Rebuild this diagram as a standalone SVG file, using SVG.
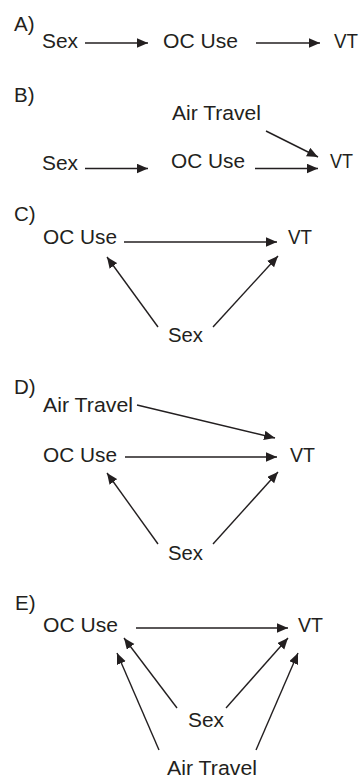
<svg xmlns="http://www.w3.org/2000/svg" width="363" height="779" viewBox="0 0 363 779">
<style>
text{font-family:"Liberation Sans",Arial,sans-serif;font-size:20.5px;fill:#231f20}
.c line{stroke:#231f20;stroke-width:1.4;marker-end:url(#ah)}
</style>
<defs>
<marker id="ah" markerUnits="userSpaceOnUse" markerWidth="12" markerHeight="10" refX="11" refY="4.75" orient="auto">
<path d="M0,0 L11,4.75 L0,9.5 z" fill="#231f20"/>
</marker>
</defs>
<rect width="363" height="779" fill="#fff"/>
<g id="panel-labels">
<text x="14" y="31">A)</text>
<text x="14" y="102">B)</text>
<text x="14" y="221">C)</text>
<text x="14" y="394">D)</text>
<text x="15" y="610">E)</text>
</g>
<g id="a-sex"><text x="42" y="47.5" textLength="36" lengthAdjust="spacingAndGlyphs">Sex</text></g>
<g id="a-oc"><text x="163" y="47.5" textLength="75" lengthAdjust="spacingAndGlyphs">OC Use</text></g>
<g id="a-vt"><text x="334" y="47.5" textLength="24" lengthAdjust="spacingAndGlyphs">VT</text></g>
<g id="b-air"><text x="172" y="120" textLength="89" lengthAdjust="spacingAndGlyphs">Air Travel</text></g>
<g id="b-sex"><text x="42" y="169.5" textLength="36" lengthAdjust="spacingAndGlyphs">Sex</text></g>
<g id="b-oc"><text x="171" y="168" textLength="74" lengthAdjust="spacingAndGlyphs">OC Use</text></g>
<g id="b-vt"><text x="330" y="168" textLength="23" lengthAdjust="spacingAndGlyphs">VT</text></g>
<g id="c-oc"><text x="43" y="244" textLength="74" lengthAdjust="spacingAndGlyphs">OC Use</text></g>
<g id="c-vt"><text x="288" y="244" textLength="24" lengthAdjust="spacingAndGlyphs">VT</text></g>
<g id="c-sex"><text x="168" y="342" textLength="35" lengthAdjust="spacingAndGlyphs">Sex</text></g>
<g id="d-air"><text x="43" y="412" textLength="90" lengthAdjust="spacingAndGlyphs">Air Travel</text></g>
<g id="d-oc"><text x="43" y="462" textLength="74" lengthAdjust="spacingAndGlyphs">OC Use</text></g>
<g id="d-vt"><text x="290" y="462" textLength="25" lengthAdjust="spacingAndGlyphs">VT</text></g>
<g id="d-sex"><text x="168" y="560" textLength="35" lengthAdjust="spacingAndGlyphs">Sex</text></g>
<g id="e-oc"><text x="43" y="632" textLength="75" lengthAdjust="spacingAndGlyphs">OC Use</text></g>
<g id="e-vt"><text x="298" y="632" textLength="25" lengthAdjust="spacingAndGlyphs">VT</text></g>
<g id="e-sex"><text x="188" y="727" textLength="36" lengthAdjust="spacingAndGlyphs">Sex</text></g>
<g id="e-air"><text x="167" y="775" textLength="90" lengthAdjust="spacingAndGlyphs">Air Travel</text></g>
<g id="connectors" class="c">
<line x1="85" y1="43" x2="148" y2="43"/>
<line x1="256" y1="43" x2="320" y2="43"/>
<line x1="266" y1="131" x2="318" y2="157"/>
<line x1="85" y1="168.5" x2="148" y2="168.5"/>
<line x1="255" y1="168.5" x2="318" y2="168.5"/>
<line x1="124" y1="242" x2="277" y2="242"/>
<line x1="158" y1="327" x2="107" y2="257"/>
<line x1="213" y1="327" x2="278" y2="256"/>
<line x1="137" y1="405" x2="275" y2="438"/>
<line x1="125" y1="457" x2="277" y2="457"/>
<line x1="158" y1="544" x2="107" y2="473"/>
<line x1="213" y1="544" x2="278" y2="472"/>
<line x1="136" y1="628" x2="288" y2="628"/>
<line x1="177" y1="708" x2="124" y2="638"/>
<line x1="226" y1="708" x2="288" y2="638"/>
<line x1="159" y1="750" x2="117" y2="653"/>
<line x1="256" y1="750" x2="298" y2="653"/>
</g>
</svg>
